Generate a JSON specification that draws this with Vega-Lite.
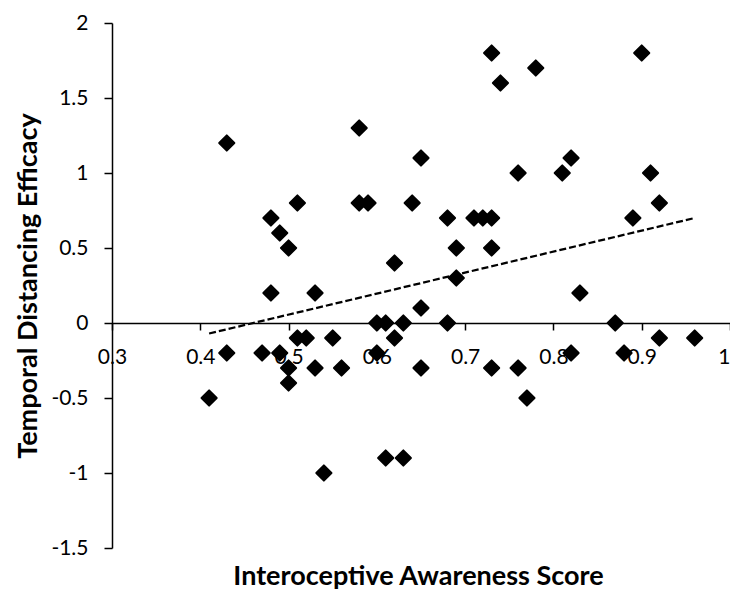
{
  "$schema": "https://vega.github.io/schema/vega-lite/v6.json",
  "width": 618,
  "height": 525,
  "autosize": "none",
  "padding": {"left": 112, "top": 23, "right": 0, "bottom": 42},
  "background": "white",
  "config": {
    "view": {"stroke": null},
    "font": "Lato",
    "axis": {
      "grid": false,
      "domainColor": "black",
      "domainWidth": 1.5,
      "tickColor": "black",
      "tickWidth": 1.5,
      "labelColor": "black",
      "labelFont": "Lato",
      "labelFontSize": 21,
      "titleColor": "black",
      "titleFont": "Lato",
      "titleFontWeight": "bold",
      "titleFontSize": 27
    }
  },
  "datasets": {
    "points": [
      {"score": 0.43, "efficacy": 1.2},
      {"score": 0.58, "efficacy": 1.3},
      {"score": 0.65, "efficacy": 1.1},
      {"score": 0.51, "efficacy": 0.8},
      {"score": 0.58, "efficacy": 0.8},
      {"score": 0.59, "efficacy": 0.8},
      {"score": 0.64, "efficacy": 0.8},
      {"score": 0.48, "efficacy": 0.7},
      {"score": 0.49, "efficacy": 0.6},
      {"score": 0.50, "efficacy": 0.5},
      {"score": 0.62, "efficacy": 0.4},
      {"score": 0.48, "efficacy": 0.2},
      {"score": 0.53, "efficacy": 0.2},
      {"score": 0.73, "efficacy": 1.8},
      {"score": 0.78, "efficacy": 1.7},
      {"score": 0.74, "efficacy": 1.6},
      {"score": 0.90, "efficacy": 1.8},
      {"score": 0.76, "efficacy": 1.0},
      {"score": 0.81, "efficacy": 1.0},
      {"score": 0.82, "efficacy": 1.1},
      {"score": 0.91, "efficacy": 1.0},
      {"score": 0.92, "efficacy": 0.8},
      {"score": 0.89, "efficacy": 0.7},
      {"score": 0.68, "efficacy": 0.7},
      {"score": 0.71, "efficacy": 0.7},
      {"score": 0.72, "efficacy": 0.7},
      {"score": 0.73, "efficacy": 0.7},
      {"score": 0.69, "efficacy": 0.5},
      {"score": 0.73, "efficacy": 0.5},
      {"score": 0.69, "efficacy": 0.3},
      {"score": 0.83, "efficacy": 0.2},
      {"score": 0.65, "efficacy": 0.1},
      {"score": 0.60, "efficacy": 0.0},
      {"score": 0.61, "efficacy": 0.0},
      {"score": 0.63, "efficacy": 0.0},
      {"score": 0.68, "efficacy": 0.0},
      {"score": 0.87, "efficacy": 0.0},
      {"score": 0.51, "efficacy": -0.1},
      {"score": 0.52, "efficacy": -0.1},
      {"score": 0.55, "efficacy": -0.1},
      {"score": 0.62, "efficacy": -0.1},
      {"score": 0.92, "efficacy": -0.1},
      {"score": 0.96, "efficacy": -0.1},
      {"score": 0.43, "efficacy": -0.2},
      {"score": 0.47, "efficacy": -0.2},
      {"score": 0.49, "efficacy": -0.2},
      {"score": 0.60, "efficacy": -0.2},
      {"score": 0.82, "efficacy": -0.2},
      {"score": 0.88, "efficacy": -0.2},
      {"score": 0.50, "efficacy": -0.3},
      {"score": 0.53, "efficacy": -0.3},
      {"score": 0.56, "efficacy": -0.3},
      {"score": 0.65, "efficacy": -0.3},
      {"score": 0.73, "efficacy": -0.3},
      {"score": 0.76, "efficacy": -0.3},
      {"score": 0.50, "efficacy": -0.4},
      {"score": 0.41, "efficacy": -0.5},
      {"score": 0.77, "efficacy": -0.5},
      {"score": 0.61, "efficacy": -0.9},
      {"score": 0.63, "efficacy": -0.9},
      {"score": 0.54, "efficacy": -1.0}
    ],
    "trend": [
      {"score": 0.41, "efficacy": -0.07},
      {"score": 0.96, "efficacy": 0.70}
    ]
  },
  "encoding": {
    "x": {
      "field": "score",
      "type": "quantitative",
      "scale": {"domain": [0.3, 1], "nice": false, "zero": false},
      "axis": {
        "orient": "bottom",
        "offset": -225,
        "values": [0.3, 0.4, 0.5, 0.6, 0.7, 0.8, 0.9, 1],
        "labelExpr": "'' + datum.value",
        "labelAlign": {"condition": {"test": "datum.value === 1", "value": "right"}, "value": "center"},
        "tickSize": 7,
        "labelPadding": 16,
        "labelFlush": false,
        "labelOverlap": false,
        "title": "Interoceptive Awareness Score",
        "titleX": 306,
        "titleY": 261,
        "titleAlign": "center",
        "titleBaseline": "alphabetic"
      }
    },
    "y": {
      "field": "efficacy",
      "type": "quantitative",
      "scale": {"domain": [-1.5, 2], "nice": false, "zero": false},
      "axis": {
        "values": [-1.5, -1, -0.5, 0, 0.5, 1, 1.5, 2],
        "labelExpr": "'' + datum.value",
        "tickSize": 8,
        "labelPadding": 16,
        "labelFlush": false,
        "labelOverlap": false,
        "title": "Temporal Distancing Efficacy",
        "titleAngle": 270,
        "titleX": -76,
        "titleY": 262.5,
        "titleAlign": "center",
        "titleBaseline": "alphabetic"
      }
    }
  },
  "layer": [
    {
      "data": {"name": "points"},
      "mark": {
        "type": "point",
        "shape": "diamond",
        "filled": true,
        "fill": "black",
        "stroke": "black",
        "strokeWidth": 2,
        "strokeJoin": "round",
        "opacity": 1,
        "size": 230
      }
    },
    {
      "data": {"name": "trend"},
      "mark": {"type": "line", "color": "black", "strokeDash": [7, 3], "strokeWidth": 2.25}
    }
  ]
}
